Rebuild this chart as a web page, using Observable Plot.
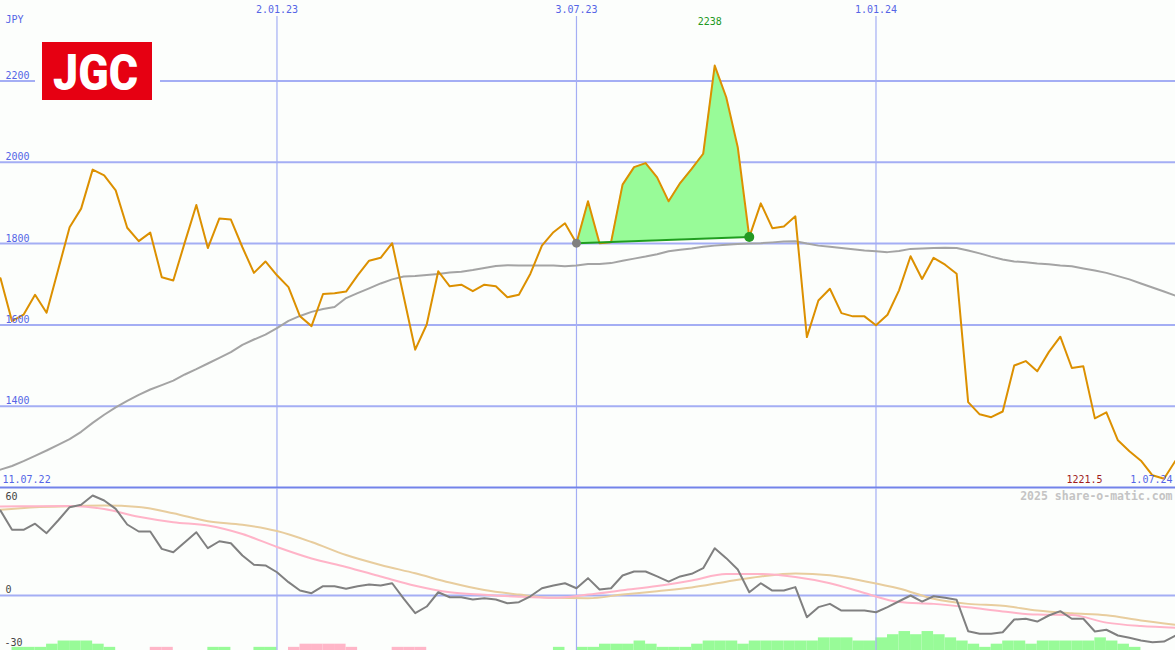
<!DOCTYPE html>
<html><head><meta charset="utf-8">
<script src="https://cdn.jsdelivr.net/npm/d3@7"></script>
<script src="https://cdn.jsdelivr.net/npm/@observablehq/plot@0.6"></script>
<style>
html,body{margin:0;padding:0;background:#fcfefc;}
#chart{position:relative;width:1175px;height:650px;overflow:hidden;background:#fcfefc;}
#chart > *{position:absolute;left:0;}
</style></head><body><div id="chart"></div>
<script>
// ---- data (weekly) ----
const firstWeek = "2022-07-18";
const price = [1715,1609,1625,1674,1630,1735,1840,1886,1982,1968,
  1931,1839,1806,1827,1717,1709,1803,1895,1789,1862,
  1859,1791,1728,1756,1722,1693,1621,1597,1676,1678,
  1682,1722,1758,1765,1801,1670,1539,1601,1732,1695,
  1699,1683,1699,1695,1668,1674,1726,1795,1828,1850,
  1801,1904,1801,1803,1945,1988,1998,1963,1904,1949,
  1984,2021,2238,2160,2037,1816,1899,1838,1842,1867,
  1570,1660,1689,1629,1621,1621,1599,1625,1685,1769,
  1713,1765,1748,1726,1410,1380,1373,1387,1500,1511,
  1486,1533,1571,1494,1498,1370,1385,1316,1289,1266,
  1230,1221.5,1266];
const movingAvg = [1244,1253,1265,1278,1291,1305,1319,1337,1359,1379,
  1397,1413,1428,1441,1452,1463,1478,1491,1505,1519,
  1533,1551,1564,1576,1592,1610,1622,1632,1639,1644,
  1666,1678,1690,1702,1712,1719,1720,1723,1725,1729,
  1731,1735,1740,1745,1747,1746,1746,1746,1746,1744,
  1746,1750,1750,1752,1758,1763,1768,1774,1781,1785,
  1788,1792,1795,1797,1799,1800,1801,1803,1805,1806,
  1800,1795,1792,1789,1786,1783,1781,1779,1782,1787,
  1788,1789,1790,1789,1783,1776,1768,1761,1756,1754,
  1751,1749,1746,1744,1739,1734,1728,1720,1712,1702,
  1692,1682,1672];
const oscillator = [54.8,42.4,42.4,46.3,40.2,48.4,57,58.5,64.5,61.3,
  55.9,45.8,41.3,41.3,30.1,27.9,34.4,40.8,30.5,35,
  33.7,25.8,19.8,19.4,15,8.6,3.2,1.5,6,6,
  4.3,6,7.1,6.5,7.9,-2,-11.4,-7.1,2.1,-1.1,
  -1.1,-2.6,-1.7,-2.6,-5,-4.3,-0.5,4.7,6.5,7.9,
  4.7,11.2,3.9,4.7,12.9,15.5,15.5,12.3,9,12.3,
  14,17.6,30.5,24.1,16.8,2.1,7.9,3.2,3.2,5.4,
  -14,-7.5,-5.4,-9.7,-9.7,-9.7,-10.8,-7.5,-3.7,0,
  -3.9,-0.5,-1.5,-2.8,-23,-24.7,-24.7,-23.7,-15.5,-15,
  -16.8,-12.9,-10.1,-15,-15,-23.2,-22.1,-25.8,-27.3,-29,
  -30.1,-29.7,-25.8];
const histLevels = [0,1,1,1,2,3,3,3,2,1,
  0,0,0,-1,-1,0,0,0,1,1,
  0,0,1,1,0,-1,-2,-2,-2,-2,
  -1,0,0,0,-1,-1,-1,0,0,0,
  0,0,0,0,0,0,0,0,1,0,
  1,1,2,2,2,3,2,1,1,1,
  2,3,3,3,2,3,3,3,3,3,
  3,4,4,4,3,3,4,5,6,5,
  6,5,4,3,2,1,2,3,3,2,
  3,3,3,3,3,4,3,2,1,0,
  0,0,0];
// sampled every 3rd week
const pinkAvg = [57.4,57.6,57.7,55.8,50.8,47.3,45.2,39.7,31.3,23.9,18.4,12.3,6.3,2.1,0.5,-0.8,-1.5,0.6,3.4,6.1,9.7,13.9,13.9,11.9,7.9,1.6,-4.2,-5.4,-7.6,-10.3,-12.3,-12.6,-17.5,-19.7,-20.8];
const tanAvg = [55.3,57,57.6,58,57.1,53.1,47.9,45.7,41.6,34.5,26.1,19.7,14.3,8.4,3.5,0.6,-1.5,-1.8,0.6,2.8,5.2,8.9,12.3,14.2,13,9.2,4.5,-2.1,-5.4,-6.6,-9.7,-11.5,-12.8,-16.1,-18.9];
const priceTicks = [1400,1600,1800,2000,2200];
const lowerTicks = [60,0];
const lowerBottomTick = [-30];
const dateTicks = ["2023-01-02","2023-07-03","2024-01-01"];
const startLabel = "11.07.22";
const endLabel = "1.07.24";
const unit = "JPY";
const trendStart = 50, trendEnd = 65;

// ---- build ----
const dates = price.map((_, i) => d3.utcDay.offset(new Date(firstWeek), 7 * i));
const tickDates = dateTicks.map(d => new Date(d));
const fmt = d3.utcFormat("%-d.%m.%y");
const rows = price.map((p, i) => ({i, date: dates[i], p, ma: movingAvg[i], osc: oscillator[i], h: histLevels[i]}));
const pinkRows = pinkAvg.map((v, k) => ({date: dates[3 * k], v}));
const tanRows = tanAvg.map((v, k) => ({date: dates[3 * k], v}));
const t0 = rows[trendStart], t1 = rows[trendEnd];
const trendRows = [t0, t1];
const areaRows = rows.slice(trendStart, trendEnd + 1).map(r => {
  const base = t0.p + (t1.p - t0.p) * (r.i - trendStart) / (trendEnd - trendStart);
  return {date: r.date, base, top: Math.max(base, r.p)};
});
const maxRow = rows.reduce((a, b) => b.p > a.p ? b : a);
const minRow = rows.reduce((a, b) => b.p < a.p ? b : a);
const barRows = rows.slice(0, rows.length - 1).filter(r => r.h !== 0).map(r => ({x1: r.date, x2: dates[r.i + 1], h: Math.abs(r.h), pos: r.h > 0}));

const X = {type: "utc", domain: [dates[0], dates[dates.length - 1]], range: [0, 1175], axis: null};
const grid = "#a4aef4";
const labelBlue = "#5565e6";
const font = {background: "transparent", fontFamily: "DejaVu Sans Mono, monospace", fontSize: "10px", overflow: "visible"};

const main = Plot.plot({
  width: 1175, height: 488, margin: 0, style: font,
  x: X,
  y: {domain: [1200, 2398], range: [487, 0], axis: null},
  marks: [
    Plot.ruleY(priceTicks, {stroke: grid, strokeWidth: 2}),
    Plot.ruleX(tickDates, {stroke: grid, strokeWidth: 1.2, insetTop: 16}),
    Plot.ruleY([1200], {stroke: "#7383ea", strokeWidth: 2}),
    Plot.areaY(areaRows, {x: "date", y1: "base", y2: "top", fill: "#98fb98"}),
    Plot.line(rows, {x: "date", y: "ma", stroke: "#a4a4a4", strokeWidth: 2}),
    Plot.line(rows, {x: "date", y: "p", stroke: "#dc9000", strokeWidth: 2}),
    Plot.line(trendRows, {x: "date", y: "p", stroke: "#1f9e1f", strokeWidth: 2}),
    Plot.dot([t0], {x: "date", y: "p", r: 4.5, fill: "#808080"}),
    Plot.dot([t1], {x: "date", y: "p", r: 5, fill: "#229922"}),
    Plot.text(tickDates, {x: d => d, text: d => fmt(d), frameAnchor: "top", dy: 9, lineAnchor: "middle", fill: labelBlue}),
    Plot.text(priceTicks, {y: d => d, text: d => String(d), frameAnchor: "left", textAnchor: "start", dx: 5, dy: -5, lineAnchor: "middle", fill: labelBlue}),
    Plot.text([unit], {frameAnchor: "top-left", dx: 5, dy: 19, lineAnchor: "middle", fill: labelBlue}),
    Plot.text([maxRow], {x: "date", text: d => String(d.p), frameAnchor: "top", dx: -5, dy: 21, lineAnchor: "middle", fill: "#229922"}),
    Plot.text([minRow], {text: d => String(d.p), frameAnchor: "bottom-right", dx: -73, dy: -9, lineAnchor: "middle", fill: "#a01c1c"}),
    Plot.text([startLabel], {frameAnchor: "bottom-left", dx: 2, dy: -9, lineAnchor: "middle", fill: labelBlue}),
    Plot.text([endLabel], {frameAnchor: "bottom-right", dx: -3, dy: -9, lineAnchor: "middle", fill: labelBlue})
  ]
});
main.style.top = "0px";

const hist = Plot.plot({
  width: 1175, height: 30, margin: 0, style: font,
  x: X,
  y: {domain: [0, 9.5], range: [30, 0], axis: null},
  marks: [
    Plot.rect(barRows, {x1: "x1", x2: "x2", y1: 0, y2: "h", fill: d => d.pos ? "#98fb98" : "#ffb6c8"})
  ]
});
hist.style.top = "620px";

const lower = Plot.plot({
  width: 1175, height: 162, margin: 0, style: font,
  x: X,
  y: {domain: [-35.48, 69.03], range: [162, 0], axis: null},
  marks: [
    Plot.ruleX(tickDates, {stroke: grid, strokeWidth: 1.2}),
    Plot.ruleY([0], {stroke: grid, strokeWidth: 2}),
    Plot.line(tanRows, {x: "date", y: "v", stroke: "#e8cd9e", strokeWidth: 2, curve: "monotone-x"}),
    Plot.line(pinkRows, {x: "date", y: "v", stroke: "#ffb4c8", strokeWidth: 2, curve: "monotone-x"}),
    Plot.line(rows, {x: "date", y: "osc", stroke: "#808080", strokeWidth: 2}),
    Plot.text(lowerTicks, {y: d => d, text: d => String(d), frameAnchor: "left", textAnchor: "start", dx: 5, dy: -6, lineAnchor: "middle", fill: "#444"}),
    Plot.text(lowerBottomTick, {y: d => d, text: d => String(d), frameAnchor: "left", textAnchor: "start", dx: 4, dy: 1, lineAnchor: "middle", fill: "#444"}),
    Plot.text(["2025 share-o-matic.com"], {frameAnchor: "top-right", dx: -3, dy: 8, lineAnchor: "middle", fill: "#c4c4c4", fontSize: 11.5, fontWeight: "bold"})
  ]
});
lower.style.top = "488px";

const chart = document.getElementById("chart");
chart.appendChild(main);
chart.appendChild(hist);
chart.appendChild(lower);

// logo
const ns = "http://www.w3.org/2000/svg";
const logo = document.createElementNS(ns, "svg");
logo.setAttribute("width", 125); logo.setAttribute("height", 70);
logo.style.left = "35px"; logo.style.top = "36px";
logo.innerHTML = '<rect x="0" y="0" width="125" height="70" fill="#fcfefc"/>' +
  '<rect x="7" y="6" width="110" height="58" fill="#e60012"/>' +
  '<text x="18" y="54" fill="#fff" font-family="Liberation Sans Narrow, Roboto, Liberation Sans, sans-serif" font-weight="900" font-size="50" textLength="85" lengthAdjust="spacingAndGlyphs">JGC</text>';
chart.appendChild(logo);
</script></body></html>
